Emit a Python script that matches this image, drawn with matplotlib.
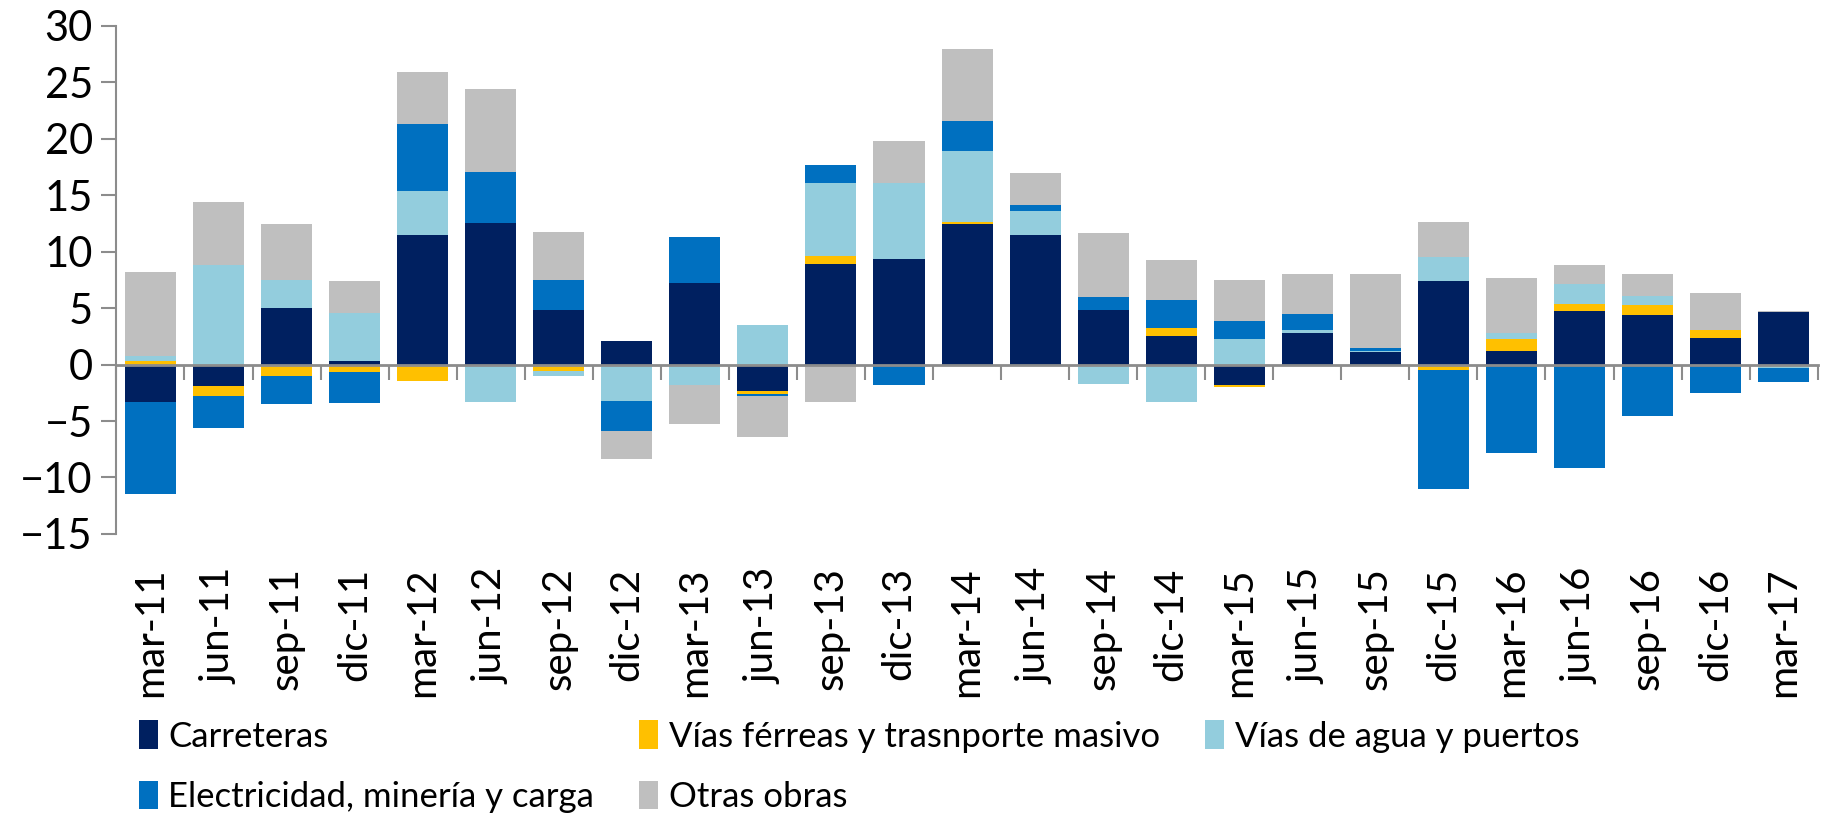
import numpy as np
import matplotlib
matplotlib.use("Agg")
import matplotlib.pyplot as plt

plt.rcParams["font.family"] = ["Lato", "DejaVu Sans"]

quarters = ["mar-11", "jun-11", "sep-11", "dic-11", "mar-12", "jun-12", "sep-12", "dic-12",
            "mar-13", "jun-13", "sep-13", "dic-13", "mar-14", "jun-14", "sep-14", "dic-14",
            "mar-15", "jun-15", "sep-15", "dic-15", "mar-16", "jun-16", "sep-16", "dic-16",
            "mar-17"]

carreteras = [-3.3, -1.9, 5.0, 0.35, 11.5, 12.5, 4.8, 2.05, 7.2, -2.3, 8.9, 9.3, 12.45,
              11.5, 4.8, 2.5, -1.8, 2.8, 1.1, 7.4, 1.2, 4.7, 4.4, 2.35, 4.65]
ferreas = [0.35, -0.9, -1.0, -0.7, -1.5, 0.0, -0.6, 0.0, 0.0, -0.3, 0.7, 0.0, 0.15,
           -0.15, -0.1, 0.7, -0.15, -0.15, -0.1, -0.45, 1.1, 0.65, 0.9, 0.7, 0.0]
agua = [0.4, 8.8, 2.5, 4.2, 3.9, -3.3, -0.4, -3.2, -1.8, 3.5, 6.5, 6.8, 6.3,
        2.1, -1.65, -3.3, 2.25, 0.25, 0.1, 2.1, 0.45, 1.75, 0.75, 0.0, -0.3]
electricidad = [-8.2, -2.8, -2.5, -2.7, 5.9, 4.5, 2.65, -2.7, 4.1, -0.2, 1.55, -1.8, 2.65,
                0.55, 1.15, 2.5, 1.6, 1.4, 0.25, -10.55, -7.85, -9.2, -4.55, -2.5, -1.25]
otras = [7.4, 5.6, 4.9, 2.8, 4.6, 7.4, 4.3, -2.5, -3.5, -3.6, -3.35, 3.7, 6.4,
         2.8, 5.65, 3.55, 3.65, 3.55, 6.55, 3.15, 4.95, 1.75, 1.95, 3.3, 0.1]

series = [
    ("Carreteras", carreteras, "#002060"),
    ("Vías férreas y trasnporte masivo", ferreas, "#FFC000"),
    ("Vías de agua y puertos", agua, "#93CDDD"),
    ("Electricidad, minería y carga", electricidad, "#0070C0"),
    ("Otras obras", otras, "#BFBFBF"),
]

fig = plt.figure(figsize=(18.25, 8.15), dpi=100)
ax = fig.add_axes([0.0638, 0.3448, 0.9322, 0.6238])

x = np.arange(len(quarters))
pos_base = np.zeros(len(quarters))
neg_base = np.zeros(len(quarters))
handles = []
for name, vals, color in series:
    v = np.array(vals)
    bottom = np.where(v >= 0, pos_base, neg_base)
    h = ax.bar(x, v, 0.75, bottom=bottom, color=color, label=name, linewidth=0, zorder=2)
    handles.append(h)
    pos_base += np.where(v >= 0, v, 0)
    neg_base += np.where(v < 0, v, 0)

axis_gray = "#8c8c8c"
ax.set_xlim(-0.5, len(quarters) - 0.5)
ax.set_ylim(-15, 30)
ax.set_yticks(np.arange(-15, 31, 5))
ax.tick_params(axis="y", direction="out", length=11, width=1.5, color=axis_gray,
               labelsize=30, pad=6)

for s in ["top", "right"]:
    ax.spines[s].set_visible(False)
ax.spines["left"].set_color(axis_gray)
ax.spines["left"].set_linewidth(1.5)
ax.spines["bottom"].set_position(("data", 0))
ax.spines["bottom"].set_color(axis_gray)
ax.spines["bottom"].set_linewidth(2)
ax.spines["bottom"].set_zorder(3)

ax.set_xticks(x)
ax.set_xticklabels([])
ax.tick_params(axis="x", which="major", length=0)
ax.set_xticks(np.arange(len(quarters) + 1) - 0.5, minor=True)
ax.tick_params(axis="x", which="minor", direction="out", length=11, width=1.5, color=axis_gray)

sec = ax.secondary_xaxis(0.0)
sec.set_xticks(x)
sec.set_xticklabels(quarters, rotation=90, fontsize=29)
sec.tick_params(axis="x", length=0, pad=24)
sec.spines["bottom"].set_visible(False)

order = [0, 3, 1, 4, 2]
fig.legend([handles[i] for i in order], [series[i][0] for i in order],
           loc="upper left", bbox_to_anchor=(0.076, 0.116), ncol=3, frameon=False,
           fontsize=25, handlelength=0.55, handleheight=0.9, handletextpad=0.3,
           columnspacing=1.3, labelspacing=0.8, borderpad=0, borderaxespad=0)

fig.savefig("out.png", dpi=100)
